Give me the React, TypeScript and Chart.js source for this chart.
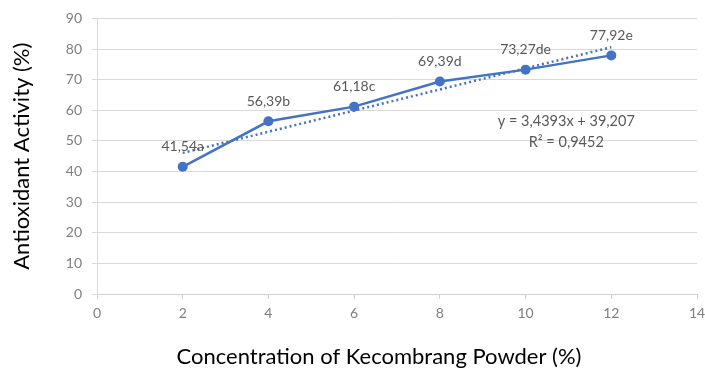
import React, { useEffect, useRef } from "react";
import { Chart, registerables } from "chart.js";

Chart.register(...registerables);

const concentrations = [2, 4, 6, 8, 10, 12];
const activity = [41.54, 56.39, 61.18, 69.39, 73.27, 77.92];
const pointLabels = ["41,54a", "56,39b", "61,18c", "69,39d", "73,27de", "77,92e"];
const trendX = [2, 12];
const trendY = [46.09, 80.6];
const equationLines = ["y = 3,4393x + 39,207", "R² = 0,9452"];
const equationAnchor = { x: 10.95, y: 53 };
const xTitle = "Concentration of Kecombrang Powder (%)";
const yTitle = "Antioxidant Activity (%)";

const BLUE = "#4472C4";
const FONT = "Lato, 'Open Sans', sans-serif";

const labelPlugin = {
  id: "labelPlugin",
  afterDatasetsDraw(chart: any) {
    const ctx = chart.ctx;
    const meta = chart.getDatasetMeta(0);
    ctx.save();
    ctx.fillStyle = "#595959";
    ctx.font = `14px ${FONT}`;
    ctx.textAlign = "center";
    ctx.textBaseline = "middle";
    meta.data.forEach((el: any, i: number) => {
      ctx.fillText(pointLabels[i], el.x, el.y - 20);
    });
    ctx.font = `14.5px ${FONT}`;
    const ex = chart.scales.x.getPixelForValue(equationAnchor.x);
    const ey = chart.scales.y.getPixelForValue(equationAnchor.y);
    equationLines.forEach((t, i) => {
      ctx.fillText(t, ex, ey + i * 21 - 10);
    });
    ctx.fillStyle = "#000";
    ctx.font = `22px ${FONT}`;
    ctx.fillText(xTitle, 379, 357);
    ctx.restore();
  },
};

export default function App() {
  const ref = useRef<HTMLCanvasElement | null>(null);
  useEffect(() => {
    if (!ref.current) return;
    const chart = new Chart(ref.current, {
      type: "scatter",
      data: {
        datasets: [
          {
            data: concentrations.map((x, i) => ({ x, y: activity[i] })),
            showLine: true,
            borderColor: BLUE,
            backgroundColor: BLUE,
            borderWidth: 2.5,
            pointRadius: 5,
            pointBorderWidth: 0,
          },
          {
            data: trendX.map((x, i) => ({ x, y: trendY[i] })),
            showLine: true,
            borderColor: BLUE,
            borderWidth: 2.5,
            borderDash: [2, 3],
            pointRadius: 0,
          },
        ],
      },
      options: {
        animation: false,
        responsive: true,
        maintainAspectRatio: false,
        layout: { padding: { left: 0, right: 0, top: 10, bottom: 0 } },
        plugins: { legend: { display: false }, tooltip: { enabled: false } },
        scales: {
          x: {
            type: "linear",
            min: 0,
            max: 14,
            ticks: { stepSize: 2, color: "#7f7f7f", font: { family: FONT, size: 14 }, padding: 6 },
            grid: { drawOnChartArea: false, drawTicks: true, tickLength: 5, color: "#d0d0d0" },
            border: { color: "#d0d0d0" },
            afterFit(scale: any) {
              scale.height = 80;
              scale.paddingRight = 8;
            },
          },
          y: {
            min: 0,
            max: 90,
            ticks: { stepSize: 10, color: "#7f7f7f", font: { family: FONT, size: 14 }, padding: 10 },
            grid: { color: "#d9d9d9", tickLength: 5 },
            border: { color: "#d9d9d9" },
            title: {
              display: true,
              text: yTitle,
              color: "#000",
              font: { family: FONT, size: 22 },
              padding: { top: 9, bottom: 0 },
            },
            afterFit(scale: any) {
              scale.width = 97;
            },
          },
        },
      },
      plugins: [labelPlugin],
    });
    return () => chart.destroy();
  }, []);
  return (
    <div style={{ position: "fixed", left: 0, top: 0, width: 705, height: 374, background: "#fff" }}>
      <canvas ref={ref} />
    </div>
  );
}
